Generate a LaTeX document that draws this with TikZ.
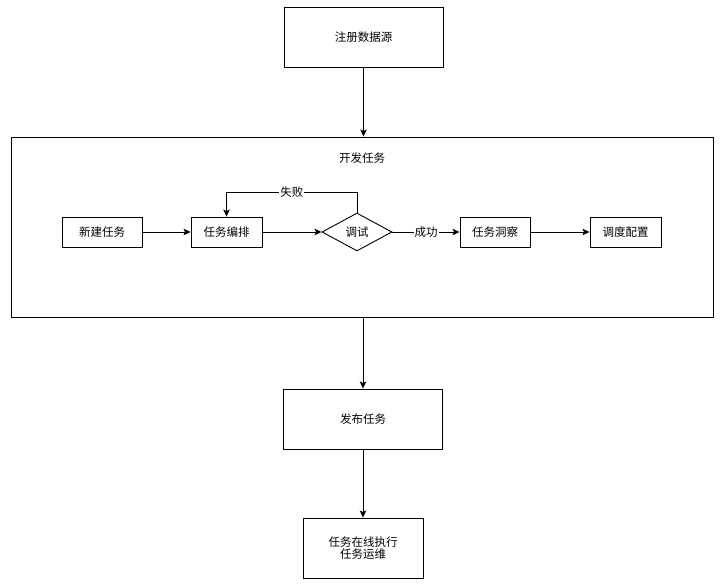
\documentclass[tikz,border=0pt]{standalone}
\usepackage{fontspec}
\setmainfont{Noto Sans CJK SC}
\usetikzlibrary{arrows.meta,shapes.geometric}

\begin{document}
\begin{tikzpicture}[
  x=1pt,
  y=-1pt,
  font=\fontsize{11.5}{14}\selectfont,
  line/.style={draw=black,line width=0.9pt},
  arrow/.style={line,-{Stealth[length=7pt,width=6.5pt,inset=1.5pt]}},
  block/.style={line,align=center,inner sep=0pt},
  bigblock/.style={block,minimum width=159pt,minimum height=60pt},
  runblock/.style={block,minimum width=120pt,minimum height=60pt},
  smallblock/.style={block,minimum height=30pt},
  decision/.style={line,diamond,aspect=1.84,inner sep=0pt,minimum width=70pt,minimum height=38pt},
  container/.style={line,minimum width=702pt,minimum height=180pt},
  tag/.style={fill=white,inner sep=1pt}
]
\useasboundingbox (0,0) rectangle (724,585);

% Top: data source
\node[bigblock] (reg) at (363.5,37) {注册数据源};

% Development frame
\node[container] (dev) at (362,227) {};
\node (devtitle) at (362,158) {开发任务};

% Steps inside the frame
\node[smallblock,minimum width=80pt] (new) at (102,232) {新建任务};
\node[smallblock,minimum width=71pt] (plan) at (226.5,232) {任务编排};
\node[decision] (debug) at (357,232) {调试};
\node[smallblock,minimum width=70pt] (insight) at (495,232) {任务洞察};
\node[smallblock,minimum width=71pt] (sched) at (625.5,232) {调度配置};

% Release and run
\node[bigblock] (pub) at (363,419) {发布任务};
\node[runblock,align=center] (run) at (363,548) {任务在线执行\\[-2pt]任务运维};

% Connectors
\draw[arrow] (reg.south) -- (reg.south |- dev.north);
\draw[arrow] (new) -- (plan);
\draw[arrow] (plan) -- (debug);
\draw[arrow] (debug) -- node[tag] {成功} (insight);
\draw[arrow] (insight) -- (sched);
\draw[arrow] (debug.north) -- ++(0,-20) -| node[tag,pos=0.25] {失败} (plan.north);
\draw[arrow] (pub |- dev.south) -- (pub);
\draw[arrow] (pub) -- (run);

\end{tikzpicture}
\end{document}
